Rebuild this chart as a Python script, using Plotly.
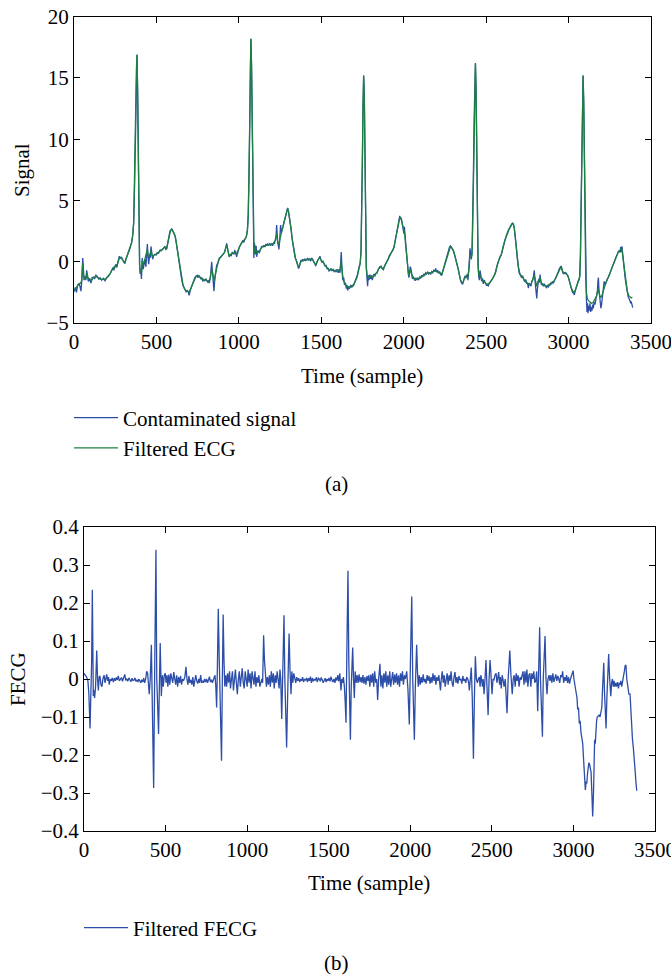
import plotly.graph_objects as go

# ---------------- data ----------------
# Panel (a): contaminated signal (sample, value)
contaminated = [
(0,-2.45),(8,-2.1),(15,-2.5),(22,-1.9),(30,-1.8),(36,-2.0),(42,-2.4),(47,-1.6),(53,0.3),(57,-1.0),
(61,-1.5),(67,-1.2),(72,-1.5),(77,-0.7),(82,-1.3),(87,-1.6),(95,-1.4),(103,-1.75),(110,-1.3),(117,-1.25),
(125,-1.4),(133,-1.1),(141,-1.2),(150,-1.4),(158,-1.3),(168,-1.5),(178,-1.35),(188,-1.55),(198,-1.3),(208,-1.2),
(218,-1.0),(226,-0.8),(235,-0.55),(242,-0.65),(249,-0.3),(255,-0.2),(259,-0.45),(266,-0.1),(275,0.45),(282,0.3),
(289,0.35),(295,0.15),(302,0.0),(309,-0.15),(315,0.2),(322,0.45),(329,0.7),(336,0.95),(343,1.3),(350,1.6),
(356,2.2),(362,3.2),(368,6.5),(373,11.5),(378,15.5),(382,16.9),(386,14.0),(390,8.5),(394,3.0),(398,-0.3),
(402,-1.0),(405,-0.6),(409,-1.4),(414,0.3),(417,-0.2),(420,-0.6),(425,0.0),(430,0.2),(436,-0.4),(440,0.6),
(445,1.45),(449,0.4),(453,-0.2),(458,0.5),(462,0.3),(467,1.25),(472,0.6),(477,0.2),(483,0.5),(491,0.6),
(498,0.55),(505,0.75),(513,0.7),(522,0.95),(530,0.9),(538,1.05),(545,1.1),(552,1.25),(557,1.0),(562,1.05),
(567,1.4),(572,1.9),(577,2.3),(582,2.5),(588,2.6),(593,2.7),(598,2.55),(605,2.35),(613,2.1),(620,1.6),
(626,1.0),(633,0.5),(640,-0.2),(647,-0.9),(653,-1.45),(660,-1.9),(667,-2.1),(673,-2.3),(680,-2.45),(686,-2.35),
(693,-2.45),(698,-2.75),(704,-2.3),(709,-2.2),(714,-2.0),(720,-1.75),(726,-1.5),(733,-1.3),(740,-1.2),(747,-1.1),
(752,-1.3),(758,-1.15),(764,-1.25),(770,-1.4),(776,-1.3),(781,-1.6),(787,-1.45),(793,-1.55),(800,-1.4),(805,-1.5),
(811,-1.7),(816,-1.5),(821,-1.75),(828,-1.2),(835,0.0),(840,-0.8),(845,-1.8),(849,-2.4),(853,-1.6),(858,-0.9),
(865,-0.3),(872,-0.1),(878,0.2),(882,0.3),(889,0.35),(896,0.45),(903,0.6),(910,0.7),(916,0.85),(921,1.2),
(926,1.5),(931,1.1),(936,0.7),(942,0.4),(948,0.55),(954,0.5),(960,0.75),(966,0.7),(971,0.6),(975,0.9),
(980,0.85),(986,0.4),(991,0.7),(997,1.05),(1003,1.2),(1009,1.35),(1016,1.55),(1023,1.7),(1030,1.6),(1037,1.85),
(1042,2.0),(1047,2.15),(1052,2.6),(1057,3.8),(1062,7.0),(1066,11.5),(1070,16.0),(1073,18.2),(1077,16.0),(1081,10.5),
(1085,4.5),(1088,0.6),(1091,0.3),(1095,1.5),(1098,1.05),(1102,0.6),(1105,1.3),(1108,0.4),(1113,0.8),(1118,0.9),
(1123,0.7),(1128,1.0),(1134,1.1),(1140,1.25),(1146,1.2),(1152,1.35),(1158,1.2),(1164,1.45),(1170,1.3),(1175,1.45),
(1181,1.35),(1187,1.5),(1193,1.35),(1199,1.45),(1205,1.3),(1211,1.55),(1216,1.5),(1222,1.85),(1226,2.1),(1229,3.0),
(1232,1.9),(1236,1.5),(1240,1.3),(1243,1.0),(1247,1.6),(1250,2.2),(1253,3.0),(1257,2.4),(1260,2.5),(1265,2.8),
(1270,3.0),(1275,3.3),(1280,3.55),(1286,3.9),(1291,4.2),(1296,4.4),(1301,4.1),(1306,3.7),(1310,3.4),(1316,2.8),
(1322,2.0),(1328,1.4),(1333,0.9),(1338,0.5),(1344,0.25),(1351,0.0),(1357,-0.3),(1362,-0.55),(1366,-0.45),(1372,-0.1),
(1377,0.15),(1381,0.0),(1387,0.2),(1393,0.05),(1399,0.25),(1405,0.1),(1411,0.15),(1417,0.3),(1423,0.1),(1429,0.25),
(1436,0.05),(1442,0.3),(1448,0.2),(1455,-0.05),(1461,-0.15),(1466,-0.35),(1472,-0.05),(1478,0.1),(1485,0.25),(1492,0.45),
(1498,0.15),(1504,-0.05),(1510,0.05),(1516,-0.15),(1523,-0.35),(1529,-0.3),(1535,-0.6),(1541,-0.5),(1547,-0.75),(1553,-0.7),
(1559,-0.55),(1565,-0.75),(1571,-0.6),(1577,-0.8),(1583,-0.7),(1590,-0.85),(1596,-0.6),(1603,-0.9),(1608,-0.6),(1614,-0.9),
(1618,0.2),(1621,0.8),(1625,-0.4),(1630,-1.5),(1636,-1.3),(1641,-1.9),(1646,-1.7),(1652,-2.2),(1656,-1.9),(1660,-2.35),
(1665,-2.0),(1670,-2.2),(1674,-2.1),(1679,-1.9),(1685,-2.1),(1690,-1.9),(1694,-2.0),(1700,-1.8),(1706,-1.65),(1711,-1.4),
(1715,-1.35),(1721,-1.0),(1726,-0.6),(1731,-0.4),(1736,-0.1),(1741,0.8),(1745,3.5),(1749,8.0),(1753,12.5),(1757,15.2),
(1761,13.5),(1765,8.0),(1769,2.5),(1773,-0.5),(1777,-1.3),(1781,-2.0),(1785,-1.1),(1789,-1.5),(1795,-1.05),(1800,-1.4),
(1805,-1.1),(1809,-1.5),(1815,-1.2),(1820,-1.0),(1825,-1.2),(1830,-0.95),(1836,-0.95),(1842,-0.7),(1848,-0.55),(1855,-0.4),
(1862,-0.35),(1869,-0.55),(1876,-0.65),(1883,-0.35),(1890,-0.2),(1897,0.0),(1903,0.15),(1907,0.25),(1913,0.5),(1919,0.65),
(1925,0.8),(1931,0.85),(1937,1.0),(1943,1.3),(1948,1.7),(1953,2.1),(1957,2.35),(1962,2.8),(1967,3.2),(1972,3.5),
(1976,3.75),(1980,3.5),(1984,3.6),(1988,3.35),(1993,3.05),(1997,2.7),(2001,2.3),(2004,2.85),(2008,2.2),(2012,1.3),
(2016,0.5),(2020,0.0),(2024,-0.6),(2028,-1.0),(2032,-1.3),(2036,-0.9),(2040,-0.4),(2044,-0.6),(2048,-1.1),(2053,-1.4),
(2058,-1.2),(2063,-1.45),(2069,-1.55),(2074,-1.3),(2080,-1.5),(2085,-1.35),(2091,-1.45),(2097,-1.25),(2103,-1.35),(2109,-1.1),
(2115,-1.25),(2121,-1.0),(2127,-1.1),(2133,-0.9),(2139,-1.0),(2146,-0.85),(2152,-1.0),(2158,-0.9),(2164,-1.0),(2170,-0.8),
(2176,-0.9),(2182,-0.7),(2188,-0.75),(2194,-0.55),(2200,-0.85),(2206,-0.7),(2212,-0.95),(2218,-0.8),(2224,-1.05),(2230,-1.1),
(2236,-0.8),(2242,-0.5),(2248,-0.2),(2254,0.1),(2260,0.3),(2266,0.7),(2272,1.0),(2278,1.2),(2284,1.3),(2289,1.2),
(2295,1.1),(2300,0.95),(2305,0.75),(2311,0.45),(2316,0.25),(2321,-0.05),(2326,-0.3),(2331,-0.6),(2336,-1.0),(2341,-1.35),
(2346,-1.6),(2352,-1.75),(2357,-1.85),(2362,-1.6),(2367,-1.3),(2372,-1.15),(2377,-1.35),(2382,-1.1),(2386,-1.0),(2390,-1.5),
(2395,-0.8),(2399,0.3),(2402,1.1),(2406,0.5),(2410,0.2),(2414,0.6),(2418,2.5),(2422,6.5),(2427,11.5),(2431,14.8),
(2435,16.2),(2439,14.0),(2443,8.5),(2447,3.5),(2451,-0.2),(2455,-1.2),(2459,-1.5),(2463,-0.7),(2467,-1.1),(2473,-1.6),
(2478,-1.35),(2483,-1.8),(2488,-1.5),(2493,-1.6),(2498,-1.8),(2503,-1.95),(2508,-1.8),(2513,-2.0),(2518,-1.75),(2524,-1.7),
(2529,-1.55),(2534,-1.5),(2540,-1.35),(2546,-1.2),(2551,-1.1),(2557,-0.9),(2562,-0.55),(2568,-0.2),(2574,0.05),(2580,0.25),
(2585,0.45),(2590,0.5),(2595,0.7),(2600,1.0),(2605,1.45),(2610,1.75),(2615,1.8),(2620,2.0),(2626,2.3),(2631,2.35),
(2637,2.6),(2643,2.8),(2649,2.95),(2655,3.05),(2660,3.15),(2665,3.05),(2670,2.8),(2675,2.3),(2679,1.7),(2684,1.0),
(2689,0.3),(2695,-0.5),(2700,-0.9),(2706,-1.05),(2711,-1.2),(2716,-1.3),(2721,-1.15),(2726,-1.45),(2731,-1.55),(2736,-1.65),
(2741,-1.45),(2746,-1.8),(2751,-1.7),(2756,-2.15),(2761,-1.75),(2767,-1.9),(2772,-2.0),(2777,-1.6),(2782,-1.5),(2787,-1.2),
(2792,-0.7),(2796,-1.5),(2800,-2.2),(2804,-2.8),(2807,-3.0),(2811,-2.2),(2815,-1.6),(2819,-1.4),(2823,-1.7),(2827,-1.05),
(2831,-1.5),(2836,-1.9),(2841,-1.75),(2847,-2.0),(2852,-1.8),(2857,-1.95),(2862,-2.1),(2867,-2.15),(2872,-1.95),(2878,-2.05),
(2883,-1.9),(2888,-1.9),(2893,-1.75),(2898,-1.8),(2903,-1.6),(2908,-1.75),(2913,-1.6),(2918,-1.45),(2923,-1.3),(2928,-1.2),
(2933,-1.0),(2938,-0.8),(2943,-0.6),(2948,-0.5),(2954,-0.35),(2959,-0.5),(2963,-0.8),(2968,-1.0),(2973,-0.85),(2978,-1.0),
(2983,-0.9),(2988,-1.0),(2993,-1.05),(2998,-1.2),(3003,-1.5),(3008,-1.8),(3013,-2.1),(3019,-2.3),(3024,-2.5),(3029,-2.55),
(3035,-2.7),(3040,-2.4),(3045,-2.1),(3049,-2.0),(3054,-1.8),(3058,-1.6),(3063,-1.5),(3068,-1.2),(3072,0.5),(3076,4.5),
(3080,9.5),(3084,13.5),(3088,15.2),(3092,13.0),(3096,7.5),(3100,2.0),(3104,-1.5),(3108,-3.0),(3112,-4.1),(3115,-3.4),
(3118,-4.2),(3122,-3.6),(3126,-4.0),(3130,-3.4),(3134,-4.1),(3138,-3.7),(3142,-4.0),(3146,-3.5),(3150,-3.8),(3155,-3.3),
(3160,-3.5),(3165,-3.1),(3170,-3.0),(3175,-2.4),(3178,-1.6),(3181,-1.3),(3184,-2.2),(3188,-2.9),(3192,-3.3),(3196,-3.8),
(3200,-3.5),(3204,-2.9),(3208,-2.5),(3212,-2.0),(3216,-1.6),(3221,-1.9),(3226,-1.7),(3231,-1.5),(3236,-1.4),(3241,-1.3),
(3246,-1.1),(3251,-0.9),(3256,-0.7),(3261,-0.5),(3266,-0.35),(3272,-0.1),(3277,0.0),(3282,0.15),(3287,0.35),(3292,0.5),
(3297,0.7),(3302,0.85),(3307,0.9),(3312,0.75),(3316,1.2),(3320,0.8),(3324,1.25),(3328,0.6),(3332,0.1),(3337,-0.6),
(3342,-1.2),(3347,-1.7),(3352,-2.2),(3357,-2.6),(3362,-2.9),(3367,-3.0),(3372,-3.25),(3377,-3.35),(3381,-3.3),(3385,-3.55),
(3389,-3.75),
]

# Panel (a): filtered ECG (sample, value)
filtered_ecg = [
(0,-2.4),(10,-2.2),(20,-1.95),(30,-1.8),(40,-1.75),(47,-1.5),(53,-0.1),(58,-1.2),(64,-1.4),(72,-1.35),
(78,-0.9),(85,-1.35),(95,-1.4),(105,-1.55),(117,-1.3),(130,-1.2),(141,-1.25),(155,-1.4),(168,-1.45),(180,-1.4),
(190,-1.45),(200,-1.3),(210,-1.15),(220,-0.95),(235,-0.55),(249,-0.35),(259,-0.4),(268,-0.05),(276,0.35),(285,0.35),
(295,0.15),(305,-0.05),(312,0.1),(322,0.45),(330,0.7),(340,1.1),(350,1.6),(356,2.1),(362,3.2),(368,6.5),
(373,11.5),(378,15.5),(382,16.9),(386,14.0),(390,8.5),(394,3.0),(398,-0.3),(402,-0.9),(406,-0.6),(410,-0.8),
(414,0.1),(420,-0.3),(427,0.1),(433,0.2),(440,0.7),(445,1.0),(451,0.4),(458,0.5),(467,0.9),(475,0.4),
(483,0.5),(491,0.6),(500,0.6),(510,0.75),(522,0.9),(535,1.0),(545,1.1),(552,1.2),(562,1.1),(570,1.7),
(577,2.2),(585,2.5),(593,2.65),(600,2.5),(608,2.3),(615,2.0),(622,1.4),(628,0.8),(635,0.3),(642,-0.4),
(649,-1.1),(655,-1.6),(662,-1.95),(670,-2.2),(678,-2.35),(688,-2.4),(696,-2.5),(704,-2.3),(714,-2.0),(722,-1.65),
(732,-1.35),(740,-1.2),(750,-1.2),(758,-1.15),(766,-1.3),(775,-1.35),(783,-1.5),(792,-1.5),(800,-1.45),(810,-1.6),
(818,-1.6),(826,-1.35),(835,-0.6),(842,-1.0),(850,-1.6),(858,-1.0),(866,-0.4),(874,-0.05),(882,0.25),(892,0.4),
(902,0.6),(912,0.75),(920,1.1),(926,1.35),(932,1.05),(940,0.5),(948,0.55),(958,0.7),(966,0.7),(975,0.8),
(985,0.6),(995,1.0),(1005,1.25),(1015,1.5),(1025,1.7),(1035,1.8),(1042,1.95),(1047,2.15),(1052,2.6),(1057,3.8),
(1062,7.0),(1066,11.5),(1070,16.0),(1073,18.2),(1077,16.0),(1081,10.5),(1085,4.5),(1088,0.7),(1092,0.6),(1096,1.2),
(1102,0.8),(1108,0.7),(1115,0.85),(1123,0.8),(1130,1.0),(1140,1.2),(1152,1.3),(1164,1.35),(1175,1.4),(1187,1.4),
(1199,1.4),(1211,1.5),(1222,1.75),(1229,2.3),(1236,1.6),(1243,1.4),(1250,1.9),(1256,2.4),(1263,2.6),(1270,3.0),
(1280,3.5),(1290,4.1),(1296,4.35),(1302,4.05),(1310,3.4),(1318,2.5),(1326,1.6),(1333,0.9),(1341,0.35),(1351,0.0),
(1359,-0.35),(1366,-0.4),(1374,-0.05),(1383,0.1),(1395,0.15),(1410,0.15),(1425,0.2),(1442,0.25),(1455,0.0),(1466,-0.25),
(1478,0.1),(1490,0.35),(1500,0.1),(1512,-0.05),(1523,-0.3),(1535,-0.5),(1547,-0.65),(1560,-0.6),(1572,-0.65),(1585,-0.75),
(1598,-0.7),(1608,-0.75),(1615,-0.6),(1620,0.1),(1625,-0.5),(1632,-1.4),(1641,-1.75),(1652,-1.95),(1662,-2.1),(1674,-2.05),
(1686,-2.0),(1697,-1.85),(1706,-1.65),(1715,-1.35),(1724,-0.85),(1731,-0.45),(1736,-0.15),(1741,0.8),(1745,3.5),(1749,8.0),
(1753,12.5),(1757,15.2),(1761,13.5),(1765,8.0),(1769,2.5),(1773,-0.4),(1778,-1.1),(1784,-1.3),(1792,-1.15),(1800,-1.25),
(1809,-1.3),(1818,-1.1),(1827,-1.05),(1836,-0.95),(1848,-0.6),(1862,-0.4),(1870,-0.55),(1878,-0.55),(1890,-0.2),(1903,0.15),
(1915,0.55),(1928,0.85),(1940,1.15),(1950,1.85),(1960,2.6),(1970,3.35),(1977,3.65),(1984,3.5),(1992,3.1),(2000,2.5),
(2006,2.3),(2012,1.3),(2018,0.4),(2024,-0.5),(2030,-1.1),(2036,-0.9),(2042,-0.65),(2048,-1.0),(2056,-1.3),(2066,-1.45),
(2078,-1.4),(2090,-1.4),(2103,-1.3),(2116,-1.15),(2130,-1.0),(2145,-0.9),(2160,-0.95),(2175,-0.85),(2188,-0.75),(2200,-0.8),
(2212,-0.85),(2224,-0.95),(2232,-1.0),(2242,-0.55),(2254,0.05),(2266,0.65),(2276,1.1),(2284,1.25),(2293,1.1),(2303,0.85),
(2313,0.35),(2323,-0.15),(2333,-0.75),(2343,-1.4),(2352,-1.7),(2360,-1.7),(2370,-1.25),(2380,-1.15),(2390,-1.2),(2397,-0.5),
(2402,0.6),(2408,0.4),(2414,0.6),(2418,2.5),(2422,6.5),(2427,11.5),(2431,14.8),(2435,16.2),(2439,14.0),(2443,8.5),
(2447,3.5),(2451,-0.2),(2455,-1.1),(2461,-1.1),(2467,-1.2),(2475,-1.5),(2485,-1.6),(2495,-1.7),(2505,-1.85),(2515,-1.85),
(2526,-1.65),(2538,-1.4),(2550,-1.1),(2560,-0.7),(2570,-0.1),(2582,0.3),(2592,0.6),(2602,1.2),(2612,1.75),(2624,2.2),
(2636,2.6),(2648,2.9),(2657,3.1),(2664,3.1),(2671,2.75),(2678,1.9),(2686,0.8),(2695,-0.4),(2705,-1.0),(2716,-1.2),
(2727,-1.45),(2738,-1.6),(2750,-1.75),(2762,-1.85),(2772,-1.85),(2782,-1.5),(2792,-1.1),(2800,-1.6),(2807,-2.0),(2815,-1.6),
(2822,-1.5),(2827,-1.3),(2835,-1.75),(2847,-1.9),(2860,-2.0),(2872,-1.95),(2885,-1.85),(2898,-1.75),(2910,-1.6),(2922,-1.35),
(2935,-0.9),(2946,-0.55),(2954,-0.4),(2962,-0.75),(2970,-0.95),(2982,-0.95),(2994,-1.1),(3004,-1.5),(3015,-2.1),(3026,-2.4),
(3036,-2.5),(3046,-2.1),(3056,-1.7),(3064,-1.45),(3068,-1.2),(3072,0.5),(3076,4.5),(3080,9.5),(3084,13.5),(3088,15.2),
(3092,13.0),(3096,7.5),(3100,2.0),(3104,-1.3),(3108,-2.5),(3114,-3.0),(3122,-3.2),(3130,-3.3),(3140,-3.4),(3150,-3.3),
(3160,-3.1),(3170,-2.8),(3178,-2.2),(3184,-2.5),(3192,-2.9),(3200,-2.85),(3210,-2.3),(3221,-1.95),(3231,-1.55),(3241,-1.3),
(3251,-0.95),(3261,-0.55),(3272,-0.15),(3282,0.15),(3292,0.5),(3302,0.8),(3310,0.85),(3318,1.05),(3324,0.95),(3330,0.35),
(3337,-0.5),(3344,-1.3),(3350,-1.9),(3357,-2.45),(3364,-2.75),(3372,-2.9),(3380,-2.95),(3387,-2.9),
]

# Panel (b): filtered FECG (sample, value)
filtered_fecg = [
(0,0.015),(8,0.01),(16,0.005),(24,-0.005),(30,-0.04),(37,-0.13),(42,-0.04),(47,0.05),(51,0.235),(54,0.05),
(57,-0.045),(61,-0.03),(65,-0.05),(71,-0.02),(78,0.075),(83,0.0),(88,-0.03),(93,0.005),(98,0.008),(104,-0.015),
(110,-0.02),(116,0.0),(123,0.01),(129,-0.01),(134,0.0),(139,0.012),(145,-0.005),(150,0.005),(155,-0.015),(161,0.0),
(167,-0.005),(173,0.003),(180,-0.008),(186,0.002),(192,-0.005),(198,0.004),(204,-0.003),(210,0.008),(217,-0.005),(223,0.0),
(230,0.004),(236,-0.006),(243,0.002),(250,0.012),(256,-0.004),(262,0.001),(268,-0.006),(275,0.003),(281,-0.002),(288,-0.007),
(294,0.002),(300,-0.004),(306,-0.003),(312,0.003),(318,-0.006),(324,-0.002),(330,-0.008),(336,0.0),(342,-0.005),(348,-0.01),
(354,-0.002),(360,-0.008),(366,0.002),(372,-0.01),(378,0.0),(384,0.02),(390,0.015),(395,-0.01),(400,-0.04),(406,0.0),
(413,0.09),(418,-0.05),(422,-0.15),(427,-0.287),(434,0.05),(441,0.34),(446,0.0),(450,-0.07),(453,-0.1),(457,-0.145),
(462,-0.02),(467,0.095),(474,-0.045),(480,0.01),(486,-0.02),(492,0.01),(498,0.015),(503,-0.01),(509,0.01),(514,-0.02),
(520,0.012),(526,-0.015),(532,0.015),(538,0.0),(544,-0.01),(550,0.018),(556,-0.005),(562,-0.015),(568,0.01),(574,-0.02),
(580,0.005),(586,-0.01),(592,0.008),(598,-0.015),(604,0.0),(610,-0.005),(618,0.005),(625,0.032),(631,0.0),(637,-0.015),
(643,0.008),(649,-0.01),(655,-0.002),(661,-0.015),(667,0.005),(673,-0.02),(679,-0.005),(685,0.01),(691,-0.005),(697,-0.012),
(703,0.0),(709,-0.01),(715,0.01),(721,-0.01),(727,-0.005),(733,-0.01),(739,0.0),(745,-0.008),(751,0.0),(757,-0.01),
(763,-0.002),(769,0.006),(775,-0.008),(781,-0.002),(787,-0.01),(793,0.0),(799,0.008),(803,0.01),(808,-0.02),(813,-0.075),
(818,0.04),(823,0.185),(829,0.05),(836,-0.1),(843,-0.215),(848,0.0),(853,0.17),(858,0.05),(863,-0.02),(869,0.01),
(874,-0.02),(880,0.015),(886,-0.01),(892,0.02),(898,-0.025),(904,0.0),(910,0.02),(916,-0.03),(922,0.0),(928,0.025),
(934,-0.01),(940,-0.04),(946,0.0),(952,0.02),(958,-0.02),(964,0.01),(970,0.028),(976,-0.01),(982,-0.025),(988,0.02),
(994,0.0),(1000,-0.02),(1006,0.025),(1012,-0.01),(1018,0.015),(1024,-0.025),(1030,0.02),(1036,0.0),(1042,-0.015),(1048,0.02),
(1054,-0.02),(1060,0.005),(1066,-0.01),(1072,0.01),(1078,-0.02),(1084,-0.01),(1090,0.0),(1095,-0.01),(1101,0.115),(1106,0.05),
(1112,-0.005),(1118,-0.02),(1124,0.005),(1130,-0.015),(1136,0.01),(1142,-0.02),(1148,0.02),(1154,-0.01),(1160,0.015),(1166,-0.025),
(1172,0.01),(1178,-0.01),(1184,0.02),(1190,0.0),(1196,-0.025),(1201,0.025),(1206,0.0),(1212,-0.105),(1219,0.05),(1226,0.168),
(1231,0.0),(1236,-0.1),(1242,-0.18),(1248,-0.05),(1253,0.05),(1257,0.12),(1263,0.02),(1269,-0.04),(1274,0.02),(1280,-0.01),
(1286,0.015),(1292,0.0),(1298,-0.01),(1304,0.005),(1310,-0.005),(1316,0.002),(1322,-0.008),(1328,0.0),(1334,-0.005),(1340,0.005),
(1346,-0.008),(1352,0.0),(1358,-0.004),(1364,0.003),(1370,-0.008),(1376,0.002),(1382,-0.005),(1388,0.006),(1394,-0.01),(1400,0.003),
(1406,-0.006),(1412,0.0),(1418,-0.004),(1424,0.004),(1430,-0.008),(1436,0.002),(1442,0.0),(1448,-0.006),(1454,0.004),(1460,-0.002),
(1466,-0.01),(1472,-0.004),(1478,0.002),(1484,-0.008),(1490,0.0),(1496,-0.005),(1502,0.003),(1508,-0.006),(1514,0.006),(1520,-0.003),
(1526,-0.008),(1532,0.0),(1538,-0.01),(1544,0.004),(1550,-0.004),(1556,0.01),(1562,-0.006),(1568,0.015),(1575,-0.03),(1580,0.0),
(1585,-0.01),(1590,0.005),(1596,-0.02),(1601,-0.06),(1606,-0.115),(1612,0.1),(1618,0.285),(1623,0.05),(1628,-0.08),(1633,-0.16),
(1638,-0.02),(1642,0.04),(1647,0.083),(1652,0.0),(1657,-0.05),(1662,0.02),(1668,-0.01),(1674,0.01),(1680,-0.01),(1686,0.012),
(1692,-0.008),(1698,0.005),(1704,-0.01),(1710,0.01),(1716,-0.012),(1722,0.005),(1728,-0.015),(1734,0.008),(1740,-0.005),(1746,0.01),
(1752,-0.02),(1758,0.012),(1764,-0.01),(1770,0.015),(1776,-0.02),(1782,0.02),(1788,-0.01),(1794,0.0),(1800,-0.055),(1806,0.0),
(1814,0.04),(1820,-0.02),(1826,0.01),(1832,-0.025),(1838,0.015),(1844,-0.01),(1850,0.02),(1856,-0.02),(1862,0.01),(1868,-0.015),
(1874,0.02),(1880,-0.02),(1886,0.005),(1892,0.018),(1898,-0.015),(1904,0.012),(1910,-0.01),(1916,0.015),(1922,-0.015),(1928,0.01),
(1934,-0.02),(1940,0.015),(1946,-0.005),(1952,0.02),(1958,-0.015),(1964,0.01),(1970,0.0),(1978,0.02),(1986,-0.03),(1994,-0.12),
(2001,0.05),(2009,0.217),(2015,0.0),(2020,-0.1),(2025,-0.16),(2031,-0.02),(2035,0.05),(2039,0.09),(2044,0.02),(2049,-0.02),
(2055,0.01),(2061,-0.015),(2067,0.005),(2073,-0.01),(2079,0.012),(2085,-0.008),(2091,0.0),(2097,-0.012),(2103,0.01),(2109,-0.005),
(2115,0.008),(2121,-0.012),(2127,0.005),(2133,-0.01),(2139,0.015),(2145,-0.005),(2151,0.01),(2157,-0.015),(2163,0.005),(2169,-0.005),
(2175,0.01),(2180,-0.02),(2185,-0.03),(2190,0.0),(2196,0.02),(2202,-0.01),(2208,0.01),(2214,-0.02),(2220,0.0),(2226,0.015),
(2232,-0.015),(2238,0.01),(2244,-0.005),(2250,0.02),(2256,-0.01),(2262,-0.02),(2268,0.005),(2274,0.018),(2280,-0.01),(2286,0.005),
(2292,-0.012),(2298,0.008),(2304,-0.003),(2310,0.0),(2316,-0.012),(2322,0.008),(2328,-0.005),(2334,0.0),(2340,-0.01),(2346,0.005),
(2352,0.0),(2358,-0.01),(2362,-0.03),(2368,0.0),(2374,0.03),(2380,-0.05),(2387,-0.21),(2393,-0.05),(2399,0.06),(2405,0.0),
(2411,-0.01),(2417,0.0),(2423,0.005),(2428,-0.02),(2432,0.01),(2437,0.0),(2442,-0.02),(2447,0.0),(2452,-0.04),(2458,0.0),
(2464,0.05),(2470,-0.02),(2477,-0.095),(2483,0.0),(2489,0.05),(2495,0.01),(2501,-0.04),(2507,0.0),(2513,-0.002),(2519,0.01),
(2526,0.015),(2531,-0.01),(2536,0.0),(2542,0.018),(2547,-0.015),(2552,0.005),(2558,-0.025),(2563,0.01),(2568,0.0),(2575,-0.02),
(2582,0.0),(2587,-0.03),(2593,-0.09),(2600,0.0),(2610,0.075),(2617,0.01),(2625,-0.04),(2631,0.0),(2637,0.01),(2643,-0.02),
(2649,0.015),(2655,-0.005),(2661,0.01),(2667,-0.02),(2673,0.005),(2679,-0.002),(2685,0.01),(2691,0.02),(2697,-0.015),(2703,0.02),
(2709,-0.01),(2715,0.025),(2721,-0.02),(2727,0.01),(2733,0.015),(2739,-0.02),(2745,0.015),(2751,0.0),(2757,0.02),(2763,-0.01),
(2769,-0.005),(2775,0.02),(2781,-0.085),(2787,0.0),(2793,0.136),(2798,0.0),(2803,-0.1),(2810,-0.152),(2815,0.0),(2821,0.08),
(2826,0.113),(2832,0.0),(2838,-0.04),(2844,0.0),(2850,0.01),(2856,-0.005),(2862,0.01),(2868,-0.01),(2874,0.015),(2880,-0.008),
(2886,0.0),(2892,0.012),(2898,-0.005),(2904,0.008),(2910,0.0),(2916,-0.01),(2922,0.01),(2928,0.005),(2934,0.02),(2940,-0.01),
(2946,0.005),(2952,-0.005),(2958,0.01),(2964,-0.01),(2970,0.005),(2976,-0.012),(2982,0.0),(2988,0.008),(2993,0.012),(2998,0.022),
(3003,0.0),(3010,-0.02),(3016,-0.04),(3022,-0.05),(3026,-0.08),(3031,-0.075),(3036,-0.117),(3041,-0.11),(3046,-0.14),(3051,-0.15),
(3057,-0.17),(3062,-0.21),(3067,-0.248),(3073,-0.292),(3078,-0.27),(3082,-0.275),(3086,-0.25),(3090,-0.23),(3095,-0.22),(3099,-0.225),
(3103,-0.235),(3108,-0.245),(3113,-0.3),(3118,-0.362),(3123,-0.3),(3126,-0.2),(3130,-0.16),(3134,-0.17),(3138,-0.13),(3142,-0.11),
(3146,-0.1),(3151,-0.097),(3157,-0.095),(3163,-0.1),(3169,-0.09),(3174,-0.075),(3178,-0.03),(3182,0.02),(3186,0.043),(3190,-0.03),
(3195,-0.1),(3200,-0.13),(3205,-0.05),(3210,0.03),(3216,0.066),(3222,0.0),(3229,-0.045),(3234,-0.01),(3239,0.0),(3244,-0.02),
(3249,-0.005),(3254,-0.02),(3259,-0.01),(3264,-0.02),(3270,-0.008),(3276,-0.025),(3281,-0.01),(3286,-0.015),(3291,-0.005),(3296,-0.02),
(3301,-0.01),(3306,0.0),(3312,0.02),(3317,0.035),(3322,0.037),(3327,0.0),(3333,-0.02),(3340,-0.04),(3347,-0.04),(3352,-0.09),
(3357,-0.143),(3362,-0.16),(3367,-0.18),(3372,-0.2),(3378,-0.24),(3383,-0.27),(3388,-0.294),
]

x_ticks = [0, 500, 1000, 1500, 2000, 2500, 3000, 3500]
y_ticks_a = [-5, 0, 5, 10, 15, 20]
y_ticks_b = [-0.4, -0.3, -0.2, -0.1, 0, 0.1, 0.2, 0.3, 0.4]

BLUE = "#2d4ea8"
GREEN = "#1c8040"
FONT = "Liberation Serif"
FS = 21

def split(pairs):
    return [p[0] for p in pairs], [p[1] for p in pairs]

fig = go.Figure()
cx, cy = split(contaminated)
fx, fy = split(filtered_ecg)
bx, by = split(filtered_fecg)

fig.add_trace(go.Scatter(x=cx, y=cy, mode="lines", name="Contaminated signal",
                         line=dict(color=BLUE, width=1.3), xaxis="x", yaxis="y", legend="legend"))
fig.add_trace(go.Scatter(x=fx, y=fy, mode="lines", name="Filtered ECG",
                         line=dict(color=GREEN, width=1.3), xaxis="x", yaxis="y", legend="legend"))
fig.add_trace(go.Scatter(x=bx, y=by, mode="lines", name="Filtered FECG",
                         line=dict(color=BLUE, width=1.3), xaxis="x2", yaxis="y2", legend="legend2"))

W, H = 671, 979
def px_x(p): return p / W
def px_y(p): return 1 - p / H

axis_common = dict(showline=True, linecolor="black", linewidth=1, mirror="ticks",
                   ticks="inside", ticklen=6, tickwidth=1, tickcolor="black",
                   showgrid=False, zeroline=False, automargin=False,
                   ticklabeloverflow="allow",
                   tickfont=dict(family=FONT, size=FS, color="black"))

def label(text, x, y, angle=0):
    return dict(text=text, x=px_x(x), y=px_y(y), xref="paper", yref="paper",
                xanchor="center", yanchor="middle", showarrow=False,
                textangle=angle, font=dict(family=FONT, size=FS, color="black"))

fig.update_layout(
    width=W, height=H,
    margin=dict(l=0, r=0, t=0, b=0, autoexpand=False),
    paper_bgcolor="white", plot_bgcolor="white",
    font=dict(family=FONT, size=FS, color="black"),
    xaxis=dict(domain=[px_x(74), px_x(651)], anchor="y", range=[0, 3500],
               tickvals=x_ticks, **axis_common),
    yaxis=dict(domain=[px_y(323), px_y(16.7)], anchor="x", range=[-5, 20],
               tickvals=y_ticks_a, **axis_common),
    xaxis2=dict(domain=[px_x(84), px_x(655)], anchor="y2", range=[0, 3500],
                tickvals=x_ticks, **axis_common),
    yaxis2=dict(domain=[px_y(831), px_y(527)], anchor="x2", range=[-0.4, 0.4],
                tickvals=y_ticks_b, **axis_common),
    legend=dict(x=px_x(69), y=px_y(433), xanchor="left", yanchor="middle",
                bgcolor="rgba(0,0,0,0)", font=dict(family=FONT, size=FS),
                tracegroupgap=0, itemwidth=44),
    legend2=dict(x=px_x(79), y=px_y(928), xanchor="left", yanchor="middle",
                 bgcolor="rgba(0,0,0,0)", font=dict(family=FONT, size=FS),
                 itemwidth=44),
    annotations=[
        label("Signal", 22, 170, -90),
        label("Time (sample)", 362, 376),
        label("(a)", 336, 484),
        label("FECG", 18, 679, -90),
        label("Time (sample)", 369, 883),
        label("(b)", 336, 963),
    ],
)

fig.write_html("out.html")
